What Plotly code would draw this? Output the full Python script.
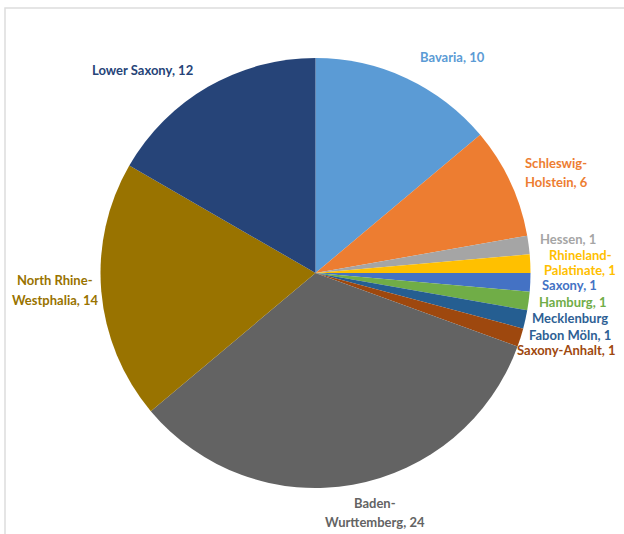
import plotly.graph_objects as go

# Data
states = ["Bavaria", "Schleswig-Holstein", "Hessen", "Rhineland-Palatinate", "Saxony",
          "Hamburg", "Mecklenburg Fabon Möln", "Saxony-Anhalt", "Baden-Wurttemberg",
          "North Rhine-Westphalia", "Lower Saxony"]
counts = [10, 6, 1, 1, 1, 1, 1, 1, 24, 14, 12]

# Label text lines (display) per state
label_lines = [
    ["Bavaria, 10"],
    ["Schleswig-", "Holstein, 6"],
    ["Hessen, 1"],
    ["Rhineland-", "Palatinate, 1"],
    ["Saxony, 1"],
    ["Hamburg, 1"],
    ["Mecklenburg", "Fabon Möln, 1"],
    ["Saxony-Anhalt, 1"],
    ["Baden-", "Wurttemberg, 24"],
    ["North Rhine-", "Westphalia, 14"],
    ["Lower Saxony, 12"],
]

# Styling
colors = ["#5B9BD5", "#ED7D31", "#A5A5A5", "#FFC000", "#4472C4", "#70AD47",
          "#255E91", "#9E480E", "#636363", "#997300", "#264478"]
label_colors = ["#5B9BD5", "#ED7D31", "#A5A5A5", "#FFC000", "#4472C4", "#70AD47",
                "#2E5F94", "#9E480E", "#636363", "#997300", "#264478"]
# label anchor (pixel center x, first-line center y, line gap)
label_pos = [
    (452, 57, 19), (556, 163, 19), (568, 239, 15), (580, 255, 15), (569, 285, 15),
    (572, 302, 15), (570, 318, 17), (566, 350, 15), (375, 503, 19), (55, 280, 20),
    (142, 70, 19),
]

W, H = 624, 534

fig = go.Figure(go.Pie(
    labels=states, values=counts, sort=False, direction="clockwise", rotation=0,
    marker=dict(colors=colors, line=dict(width=0)),
    textinfo="none", hoverinfo="label+value",
    domain=dict(x=[100 / W, 531 / W], y=[1 - 488 / H, 1 - 58 / H]),
    showlegend=False,
))

annotations = []
for lines, col, (px, py, gap) in zip(label_lines, label_colors, label_pos):
    for i, ln in enumerate(lines):
        annotations.append(dict(
            x=px / W, y=1 - (py + i * gap) / H, xref="paper", yref="paper",
            text=f"<b>{ln}</b>", showarrow=False, xanchor="center", yanchor="middle",
            font=dict(family="Lato, Open Sans, sans-serif", size=13, color=col),
        ))

fig.update_layout(
    width=W, height=H, margin=dict(l=0, r=0, t=0, b=0),
    paper_bgcolor="white", plot_bgcolor="white",
    annotations=annotations,
    shapes=[dict(type="rect", xref="paper", yref="paper",
                 x0=5 / W, x1=1.01, y0=-0.01, y1=1 - 8 / H,
                 line=dict(color="#DDDDDD", width=1.5))],
)

fig.write_html("out.html")
